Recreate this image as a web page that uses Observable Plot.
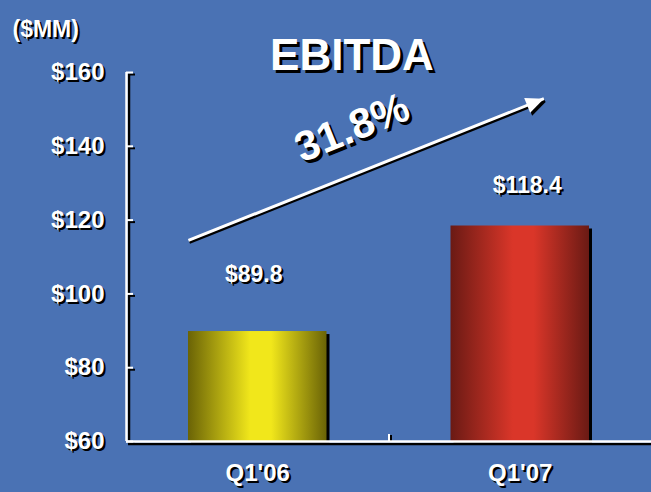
<!DOCTYPE html>
<html><head><meta charset="utf-8">
<script src="https://cdn.jsdelivr.net/npm/d3@7"></script>
<script src="https://cdn.jsdelivr.net/npm/@observablehq/plot@0.6"></script>
<style>
html,body{margin:0;padding:0;background:#4a72b4;}
#chart{width:651px;height:492px;}
</style></head><body><div id="chart"></div>
<script>
const categories = ["Q1'06", "Q1'07"];
const values = [89.8, 118.4];
const valueLabels = ["$89.8", "$118.4"];
const yTicks = [60, 80, 100, 120, 140, 160];
const titleText = "EBITDA";
const unitText = "($MM)";
const growthText = "31.8%";
const arrowStart = [0.236, 114.5];
const arrowEnd = [1.59, 152.9];
const growthAt = [0.86, 145];
const barColors = [["#6a6306", "#f1e71b"], ["#6a1a14", "#da3629"]];

const data = categories.map((c, i) => ({cat: c, i, value: values[i], label: valueLabels[i]}));
const font = "'Liberation Sans', Arial, sans-serif";
const W = "white", K = "black";

const headSymbol = {draw(ctx) { ctx.moveTo(0, 0); ctx.lineTo(-8, 18); ctx.lineTo(8, 18); ctx.closePath(); }};

const labelOffsets = [[-4, -57], [7, -40]];

function txt(d, opts, sh = 2) {
  return [Plot.text(d, {...opts, fill: K, dx: (opts.dx || 0) + sh, dy: (opts.dy || 0) + sh}),
          Plot.text(d, {...opts, fill: W})];
}

const arrowData = [{x1: arrowStart[0], y1: arrowStart[1], x2: arrowEnd[0], y2: arrowEnd[1]}];

const plot = Plot.plot({
  width: 651, height: 492,
  marginTop: 72, marginBottom: 51, marginLeft: 126, marginRight: 0,
  style: {background: "#4a72b4", fontFamily: font, overflow: "visible"},
  x: {domain: [0, 2], axis: null},
  y: {domain: [60, 160], axis: null},
  marks: [
    Plot.rectY(data, {x1: d => d.i, x2: d => d.i + 1, y1: 60, y2: "value", insetLeft: 62, insetRight: 62, fill: K, dx: 3, dy: 3}),
    ...data.map(d => Plot.rectY([d], {x1: d => d.i, x2: d => d.i + 1, y1: 60, y2: "value", insetLeft: 62, insetRight: 62, fill: `url(#grad${d.i})`})),
    Plot.ruleX([0], {y1: 60, y2: 160, stroke: K, strokeWidth: 2.5, dx: 2.5, dy: 2}),
    Plot.ruleY([60], {stroke: K, strokeWidth: 2.5, dx: 2, dy: 2.5}),
    Plot.axisY({ticks: yTicks, tickSize: -7, tickFormat: () => "", stroke: K, strokeWidth: 2, dx: 2, dy: 2}),
    Plot.axisX({ticks: [1], tickSize: -7, tickFormat: () => "", stroke: K, strokeWidth: 2, dx: 2, dy: 1}),
    Plot.ruleX([0], {y1: 60, y2: 160, stroke: W, strokeWidth: 2.5}),
    Plot.ruleY([60], {stroke: W, strokeWidth: 2.5}),
    Plot.axisY({ticks: yTicks, tickSize: -7, tickFormat: () => "", stroke: W, strokeWidth: 2}),
    Plot.axisX({ticks: [1], tickSize: -7, tickFormat: () => "", stroke: W, strokeWidth: 2}),
    ...txt(yTicks, {y: d => d, text: d => "$" + d, frameAnchor: "left", textAnchor: "end", dx: -22, fontSize: 24, fontWeight: "bold"}),
    ...txt(data, {x: d => d.i + 0.5, text: "cat", frameAnchor: "bottom", dy: 39, fontSize: 24, fontWeight: "bold"}),
    ...data.flatMap(d => txt([d], {x: d => d.i + 0.5, y: "value", text: "label", dx: labelOffsets[d.i][0], dy: labelOffsets[d.i][1], fontSize: 23, fontWeight: "bold"})),
    Plot.link(arrowData, {x1: "x1", y1: "y1", x2: "x2", y2: "y2", stroke: K, strokeWidth: 3, dx: 1, dy: 2}),
    Plot.dot(arrowData, {x: "x2", y: "y2", symbol: headSymbol, rotate: 68, fill: K, stroke: "none", dx: 2, dy: 3}),
    Plot.link(arrowData, {x1: "x1", y1: "y1", x2: "x2", y2: "y2", stroke: W, strokeWidth: 3}),
    Plot.dot(arrowData, {x: "x2", y: "y2", symbol: headSymbol, rotate: 68, fill: W, stroke: "none"}),
    ...txt([growthText], {x: growthAt[0], y: growthAt[1], text: d => d, rotate: -22, fontSize: 42, fontWeight: "bold"}, 3),
    ...txt([titleText], {text: d => d, frameAnchor: "top", dx: -37, dy: -34, fontSize: 44, fontWeight: "bold"}, 3),
    ...txt([unitText], {text: d => d, frameAnchor: "top-left", textAnchor: "start", dx: -114, dy: -52, fontSize: 23, fontWeight: "bold"})
  ]
});

const svg = d3.select(plot);
const defs = svg.insert("defs", ":first-child");
barColors.forEach(([edge, mid], i) => {
  const g = defs.append("linearGradient").attr("id", "grad" + i)
    .attr("x1", "0").attr("x2", "1").attr("y1", "0").attr("y2", "0");
  [[0, edge], [0.45, mid], [0.6, mid], [1, edge]].forEach(([o, c]) =>
    g.append("stop").attr("offset", o).attr("stop-color", c));
});

document.getElementById("chart").appendChild(plot);
</script>
</body></html>
